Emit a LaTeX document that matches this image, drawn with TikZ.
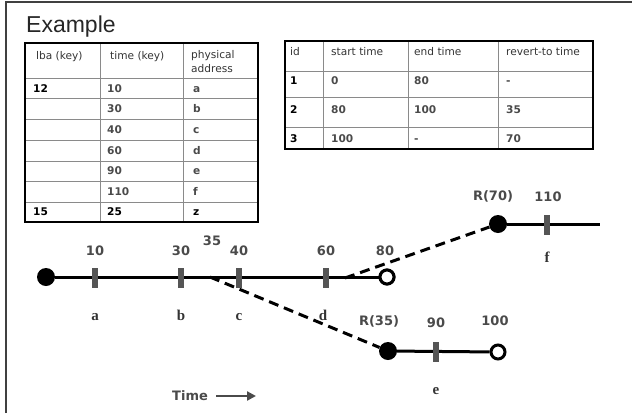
\documentclass[tikz,border=0pt]{standalone}
\usepackage{fontspec}
\setmainfont{DejaVu Sans}
\newfontfamily\titlefont{Liberation Sans}
\newfontfamily\letterfont{Liberation Serif}
\usetikzlibrary{arrows.meta,backgrounds}
\definecolor{lbl}{HTML}{4A4A4A}
\definecolor{tick}{HTML}{555555}
\definecolor{grid}{HTML}{8A8A8A}
\definecolor{hdr}{HTML}{333333}
\tikzset{
  frame/.style={draw=black!75, line width=2pt},
  outer/.style={draw=black, line width=2.2pt},
  inner/.style={draw=grid, line width=1pt},
  hd/.style={anchor=base west, inner sep=0pt, text=hdr, font=\fontsize{10.6}{12}\selectfont},
  cb/.style={anchor=base west, inner sep=0pt, text=black, font=\fontsize{10.6}{12}\selectfont\bfseries},
  cg/.style={anchor=base west, inner sep=0pt, text=lbl, font=\fontsize{10.6}{12}\selectfont\bfseries},
  num/.style={anchor=base, inner sep=0pt, text=lbl, font=\fontsize{13}{15}\selectfont\bfseries},
  let/.style={anchor=base, inner sep=0pt, text=hdr, font=\letterfont\fontsize{15}{17}\selectfont\bfseries},
  dot/.style={circle, fill=black, minimum size=18pt, inner sep=0pt},
  ocirc/.style={circle, draw=black, line width=3pt, fill=white, minimum size=14pt, inner sep=0pt},
  tickmark/.style={rectangle, fill=tick, minimum width=6pt, minimum height=20pt, inner sep=0pt},
  tl/.style={draw=black, line width=3pt},
  dl/.style={draw=black, line width=3pt, dash pattern=on 10pt off 6pt},
}
\begin{document}
\begin{tikzpicture}[x=1pt,y=-1pt]
\useasboundingbox (0,0) rectangle (632,413);
% frame
\draw[frame] (6,413) -- (6,2) -- (632,2);
% title
\node[anchor=base west, inner sep=0pt, text=black!85, font=\titlefont\fontsize{23}{26}\selectfont] (title) at (26,32) {Example};

% ---- table 1
\foreach \y in {78,98,119,140,161,181,202} \draw[inner] (25,\y) -- (258,\y);
\foreach \x in {100,183} \draw[inner] (\x,43) -- (\x,222);
\draw[outer] (25,43) rectangle (258,222);
\node[hd] (h11) at (36,59) {lba (key)};
\node[hd] (h12) at (110,59) {time (key)};
\node[hd] (h13) at (191,58.5) {physical};
\node[hd] (h14) at (191,72) {address};
\node[cb] (r1a) at (33,92.6) {12};
\node[cg] (r1b) at (107,92.6) {10};
\node[cg] (r1c) at (193,92.6) {a};
\node[cg] (r2b) at (107,112.6) {30};
\node[cg] (r2c) at (193,112.6) {b};
\node[cg] (r3b) at (107,133.6) {40};
\node[cg] (r3c) at (193,133.6) {c};
\node[cg] (r4b) at (107,154.6) {60};
\node[cg] (r4c) at (193,154.6) {d};
\node[cg] (r5b) at (107,174.6) {90};
\node[cg] (r5c) at (193,174.6) {e};
\node[cg] (r6b) at (107,195.6) {110};
\node[cg] (r6c) at (193,195.6) {f};
\node[cb] (r7a) at (33,215.6) {15};
\node[cb] (r7b) at (107,215.6) {25};
\node[cb] (r7c) at (193,215.6) {z};

% ---- table 2
\foreach \y in {71,97,127} \draw[inner] (285,\y) -- (593,\y);
\foreach \x in {323,408,498} \draw[inner] (\x,41) -- (\x,149);
\draw[outer] (285,41) rectangle (593,149);
\node[hd] (g1) at (290,55.5) {id};
\node[hd] (g2) at (331,55.5) {start time};
\node[hd] (g3) at (414,55.5) {end time};
\node[hd] (g4) at (506,55.5) {revert-to time};
\node[cb] (s1a) at (290,84.6) {1};
\node[cg] (s1b) at (331,84.6) {0};
\node[cg] (s1c) at (414,84.6) {80};
\node[cg] (s1d) at (506,84.6) {-};
\node[cb] (s2a) at (290,113.6) {2};
\node[cg] (s2b) at (331,113.6) {80};
\node[cg] (s2c) at (414,113.6) {100};
\node[cg] (s2d) at (506,113.6) {35};
\node[cb] (s3a) at (290,142.6) {3};
\node[cg] (s3b) at (331,142.6) {100};
\node[cg] (s3c) at (414,142.6) {-};
\node[cg] (s3d) at (506,142.6) {70};

% ---- timelines
\coordinate (p35) at (210,277);
\coordinate (p70) at (345,278);
\coordinate (fend) at (600,224);
\node[dot] (d0) at (46,277) {};
\node[ocirc] (c80) at (387,277) {};
\node[dot] (d35) at (388,351) {};
\node[ocirc] (c100) at (498,352) {};
\node[dot] (d70) at (498,224) {};
\begin{scope}[on background layer]
\draw[tl] (d0) -- (c80);
\draw[tl] (d35) -- (c100);
\draw[tl] (d70) -- (fend);
\end{scope}
\draw[dl] (p35) -- (d35);
\draw[dl] (p70) -- (d70);
\node[ocirc] at (c80) {};
\node[tickmark] (t10) at (95,278) {};
\node[tickmark] (t30) at (181,278) {};
\node[tickmark] (t40) at (239,278) {};
\node[tickmark] (t60) at (326,278) {};
\node[tickmark] (t90) at (436,352) {};
\node[tickmark] (t110) at (547,225) {};

\node[num] (n10) at (95,255.7) {10};
\node[num] (n30) at (181,255.7) {30};
\node[num] (n35) at (212,245.7) {35};
\node[num] (n40) at (239,255.7) {40};
\node[num] (n60) at (326,255.7) {60};
\node[num] (n80) at (385,255.7) {80};
\node[num] (nR35) at (379,325) {R(35)};
\node[num] (n90) at (436,327.5) {90};
\node[num] (n100) at (495,325.5) {100};
\node[num] (nR70) at (493,200.2) {R(70)};
\node[num] (n110) at (548,201.4) {110};

\node[let] (la) at (95,320) {a};
\node[let] (lb) at (181,320) {b};
\node[let] (lc) at (239,320) {c};
\node[let] (ld) at (323,320.5) {d};
\node[let] (le) at (436,394) {e};
\node[let] (lf) at (547,262.5) {f};

\node[num, anchor=base west] (time) at (172,400.5) {Time};
\coordinate (a1) at (216,396);
\coordinate (a2) at (256,396);
\draw[draw=lbl, line width=2.6pt, -{Triangle[length=9pt,width=9pt]}] (a1) -- (a2);
\end{tikzpicture}
\end{document}
